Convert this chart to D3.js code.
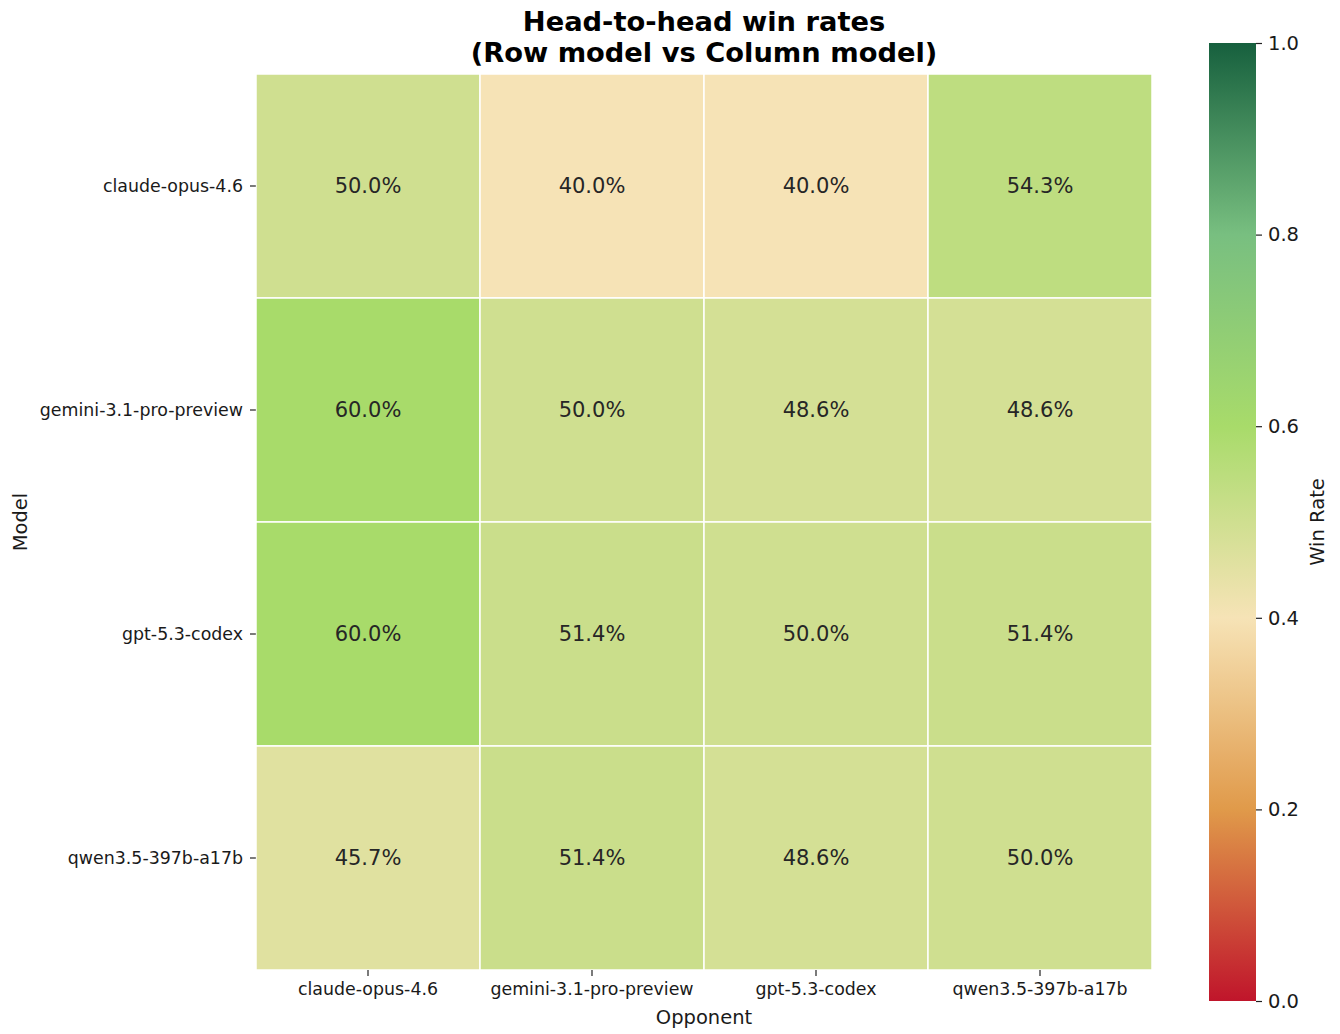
<!DOCTYPE html>
<html>
<head>
<meta charset="utf-8">
<script src="https://cdn.jsdelivr.net/npm/d3@7"></script>
<style>
  body { margin: 0; background: #fff; }
  text { font-family: "DejaVu Sans", sans-serif; }
</style>
</head>
<body>
<svg id="chart" width="1340" height="1034"></svg>
<script>
const rowModels = ["claude-opus-4.6", "gemini-3.1-pro-preview", "gpt-5.3-codex", "qwen3.5-397b-a17b"];
const colModels = ["claude-opus-4.6", "gemini-3.1-pro-preview", "gpt-5.3-codex", "qwen3.5-397b-a17b"];
const winRates = [
  [0.500, 0.400, 0.400, 0.543],
  [0.600, 0.500, 0.486, 0.486],
  [0.600, 0.514, 0.500, 0.514],
  [0.457, 0.514, 0.486, 0.500]
];
const colorStops = [0, 0.2, 0.4, 0.6, 0.8, 1.0];
const colorValues = ["#c0152b", "#e09a4a", "#f6e3b6", "#a8db6a", "#78bf80", "#17603e"];
const cbarTicks = [0, 0.2, 0.4, 0.6, 0.8, 1.0];

const svg = d3.select("#chart");
const color = d3.scaleLinear().domain(colorStops).range(colorValues).interpolate(d3.interpolateRgb).clamp(true);

const hmLeft = 256, hmTop = 74, hmSize = 896;
const x = d3.scaleBand().domain(colModels).range([hmLeft, hmLeft + hmSize]);
const y = d3.scaleBand().domain(rowModels).range([hmTop, hmTop + hmSize]);

const cells = [];
rowModels.forEach((r, i) => colModels.forEach((c, j) => cells.push({r, c, v: winRates[i][j]})));

const g = svg.append("g");
g.selectAll("rect.cell").data(cells).enter().append("rect")
  .attr("class", "cell")
  .attr("x", d => x(d.c)).attr("y", d => y(d.r))
  .attr("width", x.bandwidth()).attr("height", y.bandwidth())
  .attr("fill", d => color(d.v))
  .attr("stroke", "#ffffff").attr("stroke-width", 1.5);

g.selectAll("text.ann").data(cells).enter().append("text")
  .attr("x", d => x(d.c) + x.bandwidth() / 2)
  .attr("y", d => y(d.r) + y.bandwidth() / 2)
  .attr("text-anchor", "middle").attr("dominant-baseline", "central")
  .attr("font-size", 21).attr("fill", "#262626")
  .text(d => (d.v * 100).toFixed(1) + "%");

// axes
const xAxis = d3.axisBottom(x).tickSize(6).tickPadding(7);
const gx = svg.append("g").attr("transform", `translate(0,${hmTop + hmSize})`).call(xAxis);
gx.select(".domain").remove();
gx.selectAll("text").attr("font-size", 17.4).attr("fill", "#1a1a1a").attr("font-family", "DejaVu Sans");
gx.selectAll("line").attr("stroke", "#222").attr("stroke-width", 1.2);

const yAxis = d3.axisLeft(y).tickSize(6).tickPadding(7);
const gy = svg.append("g").attr("transform", `translate(${hmLeft},0)`).call(yAxis);
gy.select(".domain").remove();
gy.selectAll("text").attr("font-size", 17.4).attr("fill", "#1a1a1a").attr("font-family", "DejaVu Sans");
gy.selectAll("line").attr("stroke", "#222").attr("stroke-width", 1.2);

svg.append("text").attr("x", hmLeft + hmSize / 2).attr("y", 1024)
  .attr("text-anchor", "middle").attr("font-size", 19.5).attr("fill", "#1a1a1a").text("Opponent");
svg.append("text").attr("transform", `translate(27,${hmTop + hmSize / 2}) rotate(-90)`)
  .attr("text-anchor", "middle").attr("font-size", 19.5).attr("fill", "#1a1a1a").text("Model");

// title
svg.append("text").attr("x", 704).attr("y", 31).attr("text-anchor", "middle")
  .attr("font-size", 27.3).attr("font-weight", "bold").attr("fill", "#000").text("Head-to-head win rates");
svg.append("text").attr("x", 704).attr("y", 62).attr("text-anchor", "middle")
  .attr("font-size", 27.3).attr("font-weight", "bold").attr("fill", "#000").text("(Row model vs Column model)");

// colorbar
const cbX = 1209, cbW = 47, cbTop = 43, cbBot = 1001;
const cy = d3.scaleLinear().domain([0, 1]).range([cbBot, cbTop]);
const defs = svg.append("defs");
const grad = defs.append("linearGradient").attr("id", "cbgrad")
  .attr("x1", 0).attr("y1", 1).attr("x2", 0).attr("y2", 0);
d3.range(0, 1.0001, 0.05).forEach(t => {
  grad.append("stop").attr("offset", t).attr("stop-color", color(t));
});
svg.append("rect").attr("x", cbX).attr("y", cbTop).attr("width", cbW).attr("height", cbBot - cbTop)
  .attr("fill", "url(#cbgrad)");
const cAxis = d3.axisRight(cy).tickValues(cbarTicks).tickFormat(d3.format(".1f")).tickSize(6).tickPadding(6);
const gc = svg.append("g").attr("transform", `translate(${cbX + cbW},0)`).call(cAxis);
gc.select(".domain").remove();
gc.selectAll("text").attr("font-size", 19.5).attr("fill", "#1a1a1a").attr("font-family", "DejaVu Sans");
gc.selectAll("line").attr("stroke", "#222").attr("stroke-width", 1.2);
svg.append("text").attr("transform", `translate(1324,${(cbTop + cbBot) / 2}) rotate(-90)`)
  .attr("text-anchor", "middle").attr("font-size", 19.5).attr("fill", "#1a1a1a").text("Win Rate");
</script>
</body>
</html>
